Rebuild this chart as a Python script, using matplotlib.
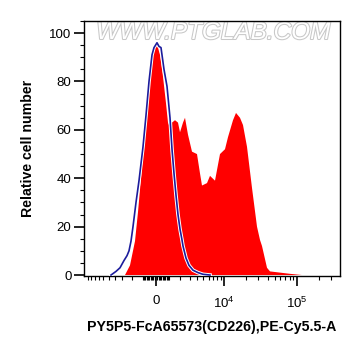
import numpy as np
import matplotlib
matplotlib.use("Agg")
import matplotlib.pyplot as plt
import matplotlib.patheffects as pe

plt.rcParams['font.family'] = ['Liberation Sans', 'DejaVu Sans']
plt.rcParams['mathtext.fontset'] = 'custom'
plt.rcParams['mathtext.rm'] = 'Liberation Sans'
plt.rcParams['mathtext.it'] = 'Liberation Sans'

# histogram data, x in display channels (0-256), y in % of max
red_x = [41, 46, 51, 54, 57, 60, 63, 66, 69, 72, 74, 76, 79, 82, 84, 86, 88, 91,
         94, 96, 99, 101, 104, 108, 113, 116, 118, 123, 126, 131, 136, 141, 144,
         149, 152, 156, 159, 163, 168, 173, 176, 178, 183, 186, 196, 206, 218]
red_y = [0, 4, 14, 26, 40, 55, 70, 84, 94, 95, 94, 91, 82, 71, 63, 61, 63, 64,
         63, 59, 63, 65, 58, 51, 50, 42, 37, 38, 41, 39, 50, 52, 57,
         64, 67, 65, 62, 53, 36, 20, 14.5, 12, 3, 1.5, 1, 0.5, 0]

blue_x = [27, 32, 36, 40, 43, 45, 47, 49, 52, 55, 59, 62, 65, 68, 70, 73, 75, 77,
          80, 83, 86, 88, 90, 92, 94, 96, 98, 99, 102, 105, 109, 114, 119, 126]
blue_y = [0, 1.5, 3, 6, 8, 10, 14, 20, 30, 39, 53, 66, 80, 91, 94, 96, 94.5, 94,
          85, 78, 65, 52, 42, 33, 25, 19, 14.5, 12, 7, 4, 2, 1, 0.3, 0]

x_major = [0, 10000, 100000]
x_major_labels = ['0', '$10^4$', '$10^5$']
x_minor = ([-10000, -9000, -8000, -7000, -6000, -5000, -4000, -3000, -2000, -1000]
           + list(range(-900, 1000, 100))
           + list(range(1000, 10000, 1000))
           + list(range(20000, 100000, 10000))
           + [200000, 300000])

y_major = [0, 20, 40, 60, 80, 100]
y_minor = [5, 10, 15, 25, 30, 35, 45, 50, 55, 65, 70, 75, 85, 90, 95, 105]

ZERO_CH = 72
DECADE = 31.7
LIN_W = 2370


def to_channel(v):
    # biexponential-like display transform
    return ZERO_CH + DECADE * np.arcsinh(np.asarray(v, dtype=float) / LIN_W)


fig = plt.figure(figsize=(3.61, 3.56), dpi=100)
ax = fig.add_axes([84 / 361, 80 / 356, 256 / 361, 255 / 356])

ax.fill(red_x, red_y, color='#ff0000', linewidth=0, zorder=2)
ax.plot(blue_x, blue_y, color='#1c1c9c', linewidth=1.2, zorder=3,
        path_effects=[pe.Stroke(linewidth=2.6, foreground='white'), pe.Normal()])

ax.set_xlim(0, 256)
ax.set_ylim(-0.4, 105)

ax.set_xticks(to_channel(x_major))
ax.set_xticklabels(x_major_labels, fontsize=9.5)
ax.set_xticks(to_channel(x_minor), minor=True)
ax.set_yticks(y_major)
ax.set_yticklabels([str(v) for v in y_major], fontsize=9.5)
ax.set_yticks(y_minor, minor=True)

ax.tick_params(axis='both', which='major', direction='out', length=7, width=1.2)
ax.tick_params(axis='both', which='minor', direction='out', length=3, width=0.8)
ax.tick_params(axis='y', which='major', pad=2)
ax.tick_params(axis='x', which='major', pad=7)

for s in ax.spines.values():
    s.set_linewidth(1.0)

ax.set_ylabel('Relative cell number', fontsize=10.2, fontweight='bold', labelpad=10)
ax.set_xlabel('PY5P5-FcA65573(CD226),PE-Cy5.5-A', fontsize=10.2, fontweight='bold', labelpad=7)

# watermark
ax.text(0.504, 0.955, 'WWW.PTGLAB.COM', transform=ax.transAxes, ha='center', va='center',
        fontsize=17.5, color='white', style='italic', zorder=1,
        path_effects=[pe.withStroke(linewidth=1.5, foreground='#c8c8c8')])

fig.savefig('out.png', dpi=100)
